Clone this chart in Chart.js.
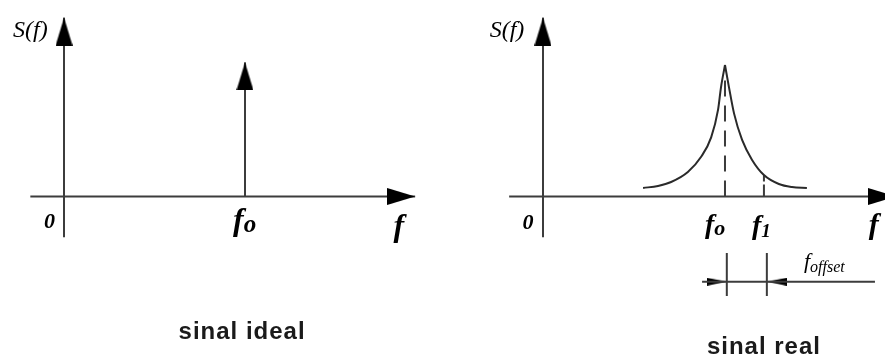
<!DOCTYPE html>
<html>
<head>
<meta charset="utf-8">
<script src="https://cdn.jsdelivr.net/npm/chart.js@4"></script>
<style>
  html, body { margin: 0; padding: 0; background: #fff; }
  #wrap { width: 885px; height: 358px; position: relative; }
</style>
</head>
<body>
<div id="wrap"><canvas id="spectrum"></canvas></div>
<script>
// ── data (frequency in units where f0 = 5, S(f) normalised to the peak) ──
const F0 = 5;
const F1 = 6.07;
const SPIKE_TOP = 1.02;

// axes: [start, arrow tip]
const axisF = [-0.93, 9.7];
const axisS = [-0.31, 1.36];

// real signal spectrum, split at the peak so the cusp stays sharp
const realLeftF  = [2.75, 3.16, 3.52, 3.98, 4.34, 4.62, 4.81, 4.89, 5.0];
const realLeftS  = [0.065, 0.08, 0.11, 0.186, 0.30, 0.45, 0.66, 0.83, 1.0];
const realRightF = [5.0, 5.11, 5.25, 5.47, 5.74, 6.07, 6.48, 6.84, 7.25];
const realRightS = [1.0, 0.83, 0.63, 0.43, 0.28, 0.163, 0.095, 0.072, 0.065];

// f_offset dimension line
const offsetLineF = [4.37, 9.12];
const offsetLineS = -0.648;
const offsetMarks = [5.05, 6.15];
const offsetMarkS = [-0.43, -0.757];

const INK = '#3c3c3c';
const SERIF = '"Liberation Serif", "DejaVu Serif", serif';
const SANS = '"Liberation Sans", Arial, sans-serif';

// arrowhead image, tip at the centre of the canvas, pointing up
function makeArrow(w, len) {
  const c = document.createElement('canvas');
  c.width = w; c.height = len * 2;
  const g = c.getContext('2d');
  g.fillStyle = '#000';
  g.beginPath();
  g.moveTo(w / 2, len);
  g.lineTo(w, len * 2);
  g.lineTo(0, len * 2);
  g.closePath();
  g.fill();
  return c;
}
const bigArrow = makeArrow(17, 28);
const smallArrow = makeArrow(8, 20);

function pts(xs, ys) {
  return xs.map((x, i) => ({ x, y: Array.isArray(ys) ? ys[i] : ys }));
}

function seg(axis, xs, ys, extra = {}) {
  return Object.assign({
    xAxisID: axis, yAxisID: 'y',
    data: pts(xs, ys),
    borderColor: INK, borderWidth: 2,
    pointRadius: 0, fill: false, tension: 0, clip: false
  }, extra);
}

// line ending in an arrowhead at its last point
function arrowSeg(axis, xs, ys, rot, img = bigArrow) {
  const n = xs.length;
  return seg(axis, xs, ys, {
    pointStyle: img,
    pointRotation: rot,
    pointRadius: ctx => ctx.dataIndex === n - 1 ? 30 : 0
  });
}

// text annotations anchored in data coordinates
const notes = [
  { axis: 'xL', x: -0.93, y: 1.21, text: 'S(f)', font: `italic 24px ${SERIF}`, align: 'center' },
  { axis: 'xL', x: -0.40, y: -0.24, text: '0', font: `bold italic 22px ${SERIF}`, align: 'center' },
  { axis: 'xL', x: 4.67, y: -0.255, text: 'f', sub: 'o', font: `bold italic 32px ${SERIF}`, subFont: `bold italic 25px ${SERIF}`, subDy: 2 },
  { axis: 'xL', x: 9.25, y: -0.30, text: 'f', font: `bold italic 32px ${SERIF}`, align: 'center' },
  { axis: 'xL', x: 4.92, y: -1.084, text: 'sinal ideal', font: `bold 24px ${SANS}`, align: 'center', color: '#1a1a1a', spacing: '1px' },

  { axis: 'xR', x: -0.99, y: 1.21, text: 'S(f)', font: `italic 24px ${SERIF}`, align: 'center' },
  { axis: 'xR', x: -0.41, y: -0.247, text: '0', font: `bold italic 22px ${SERIF}`, align: 'center' },
  { axis: 'xR', x: 4.45, y: -0.278, text: 'f', sub: 'o', font: `bold italic 28px ${SERIF}`, subFont: `bold italic 22px ${SERIF}`, subDy: 2 },
  { axis: 'xR', x: 5.74, y: -0.285, text: 'f', sub: '1', font: `bold italic 28px ${SERIF}`, subFont: `bold italic 19px ${SERIF}`, subDy: 3 },
  { axis: 'xR', x: 9.09, y: -0.285, text: 'f', font: `bold italic 30px ${SERIF}`, align: 'center' },
  { axis: 'xR', x: 7.17, y: -0.544, text: 'f', sub: 'offset', font: `italic 22px ${SERIF}`, subFont: `italic 16px ${SERIF}`, subDy: 4 },
  { axis: 'xR', x: 6.07, y: -1.198, text: 'sinal real', font: `bold 24px ${SANS}`, align: 'center', color: '#1a1a1a', spacing: '1px' }
];

const notesPlugin = {
  id: 'notes',
  afterDatasetsDraw(chart) {
    const { ctx, scales } = chart;
    ctx.save();
    ctx.textBaseline = 'alphabetic';
    notes.forEach(n => {
      const px = scales[n.axis].getPixelForValue(n.x);
      const py = scales.y.getPixelForValue(n.y);
      ctx.fillStyle = n.color || '#000';
      ctx.font = n.font;
      ctx.letterSpacing = n.spacing || '0px';
      ctx.textAlign = n.align || 'left';
      ctx.fillText(n.text, px, py);
      if (n.sub) {
        const w = ctx.measureText(n.text).width;
        ctx.font = n.subFont;
        ctx.textAlign = 'left';
        ctx.fillText(n.sub, px + w, py + n.subDy);
      }
    });
    ctx.restore();
  }
};

const datasets = [
  // ideal signal
  arrowSeg('xL', axisF, [0, 0], 90),
  arrowSeg('xL', [0, 0], axisS, 0),
  arrowSeg('xL', [F0, F0], [0, SPIKE_TOP], 0),
  // real signal
  arrowSeg('xR', axisF, [0, 0], 90),
  arrowSeg('xR', [0, 0], axisS, 0),
  seg('xR', realLeftF, realLeftS, { borderColor: '#2a2a2a', cubicInterpolationMode: 'monotone' }),
  seg('xR', realRightF, realRightS, { borderColor: '#2a2a2a', cubicInterpolationMode: 'monotone' }),
  seg('xR', [F0, F0], [0, 0.95], { borderDash: [16, 9] }),
  seg('xR', [F1, F1], [0, 0.163], { borderDash: [12, 3] }),
  // f_offset dimension
  seg('xR', offsetLineF, offsetLineS),
  seg('xR', [offsetMarks[0], offsetMarks[0]], offsetMarkS),
  seg('xR', [offsetMarks[1], offsetMarks[1]], offsetMarkS),
  seg('xR', offsetMarks, offsetLineS, {
    showLine: false, pointStyle: smallArrow, pointRadius: 30, pointRotation: [90, 270]
  })
];

new Chart(document.getElementById('spectrum'), {
  type: 'line',
  data: { datasets },
  options: {
    responsive: true,
    maintainAspectRatio: false,
    animation: false,
    events: [],
    layout: { padding: 0, autoPadding: false },
    plugins: { legend: { display: false }, tooltip: { enabled: false } },
    scales: {
      xL: { type: 'linear', display: false, min: -1.768, max: 22.68 },
      xR: { type: 'linear', display: false, min: -14.918, max: 9.396 },
      y:  { type: 'linear', display: false, min: -1.228, max: 1.494 }
    }
  },
  plugins: [notesPlugin]
});
</script>
</body>
</html>
